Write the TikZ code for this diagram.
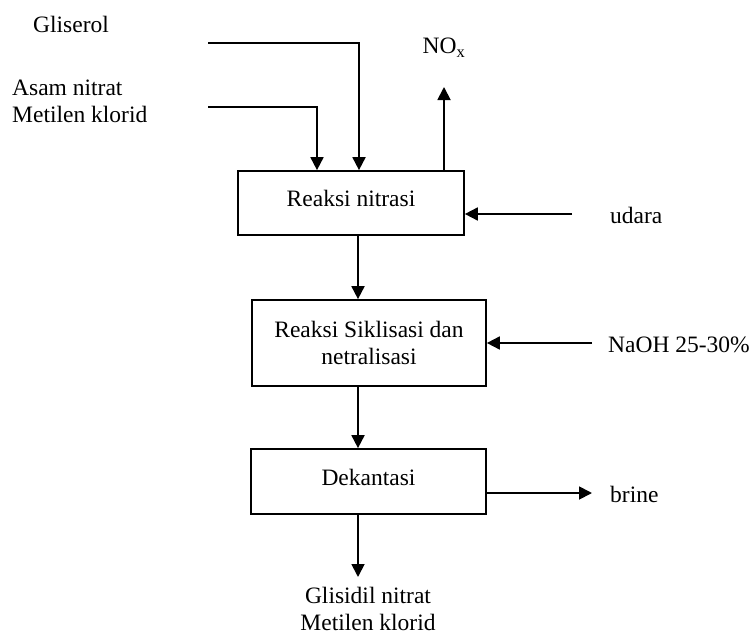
\documentclass[tikz,border=0pt]{standalone}
\usepackage{fontspec}
\setmainfont{Liberation Serif}
\usetikzlibrary{arrows.meta,calc}
\tikzset{
  box/.style={draw,line width=1.7pt,rectangle,inner sep=0pt,align=center},
  lbl/.style={inner sep=0pt,align=left},
  arr/.style={line width=1.8pt,-{Triangle[length=13pt,width=13pt]}},
}
\begin{document}
\begin{tikzpicture}[x=1pt,y=-1pt,font=\fontsize{23.5}{27}\selectfont]
\useasboundingbox[fill=white] (0,0) rectangle (755,637);
% boxes
\node[box,minimum width=226pt,minimum height=64pt,text depth=10pt] (b1) at (351,203) {Reaksi nitrasi};
\node[box,minimum width=234pt,minimum height=86pt] (b2) at (369,343) {Reaksi Siklisasi dan\\netralisasi};
\node[box,minimum width=235pt,minimum height=65pt,text depth=9pt] (b3) at (368.5,481.5) {Dekantasi};
% labels
\node[lbl,anchor=west] (gli) at (33,24) {Gliserol};
\node[lbl,anchor=west] (asam) at (12,101) {Asam nitrat\\Metilen klorid};
\node[lbl] (nox) at (444,48) {NO$_\mathrm{x}$};
\node[lbl,anchor=west] (udara) at (610,215) {udara};
\node[lbl,anchor=west] (naoh) at (608,345) {NaOH 25-30\%};
\node[lbl,anchor=west] (brine) at (610,494) {brine};
\node[lbl,align=center] (prod) at (368,609) {Glisidil nitrat\\Metilen klorid};
% free ends
\coordinate (g0) at (208,43);
\coordinate (gx) at (359,0);
\coordinate (a0) at (208,107);
\coordinate (ax) at (317,0);
\coordinate (nx) at (444,0);
\coordinate (n1) at (444,87);
\coordinate (u0) at (572,214);
\coordinate (m0) at (592,343);
\coordinate (cx) at (358,0);
\coordinate (br) at (592,493);
\coordinate (pr) at (358,577);
% connectors
\draw[arr] (g0) -| (gx |- b1.north);
\draw[arr] (a0) -| (ax |- b1.north);
\draw[arr] (nx |- b1.north) -- (n1);
\draw[arr] (u0) -- (b1.east |- u0);
\draw[arr] (cx |- b1.south) -- (cx |- b2.north);
\draw[arr] (m0) -- (b2.east |- m0);
\draw[arr] (cx |- b2.south) -- (cx |- b3.north);
\draw[arr] (b3.east |- br) -- (br);
\draw[arr] (cx |- b3.south) -- (pr);
\end{tikzpicture}
\end{document}
